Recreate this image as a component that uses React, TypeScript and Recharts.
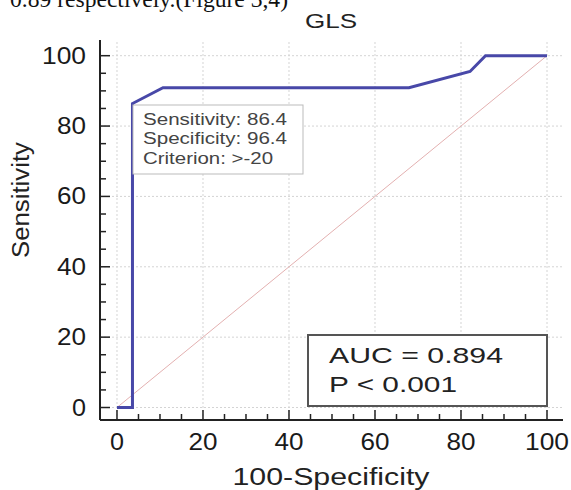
import React from 'react';
import { LineChart, Line, XAxis, YAxis, ReferenceLine } from 'recharts';

// ROC curve points (100-Specificity vs Sensitivity)
const rocX = [0, 3.6, 3.6, 10.7, 67.9, 82.1, 85.7, 100];
const rocY = [0, 0, 86.4, 90.9, 90.9, 95.5, 100, 100];

// diagonal reference line
const refX = [0, 100];
const refY = [0, 100];

// grid + tick values
const gridValues = [0, 20, 40, 60, 80, 100];
const tickValues = [0, 5, 10, 15, 20, 25, 30, 35, 40, 45, 50, 55, 60, 65, 70, 75, 80, 85, 90, 95, 100];

const cutoffLines = ['Sensitivity: 86.4', 'Specificity: 96.4', 'Criterion: >-20'];
const aucLines = ['AUC = 0.894', 'P < 0.001'];

const rocData = rocX.map((x, i) => ({ x, y: rocY[i] }));
const refData = refX.map((x, i) => ({ x, y: refY[i] }));

const FONT = '"Liberation Sans", Arial, sans-serif';
const LABEL_W: Record<number, number> = { 1: 14, 2: 29, 3: 44 };

const XTick = (props: any) => {
  const { x, y, payload } = props;
  const v = payload.value;
  const major = v % 20 === 0;
  const s = String(v);
  return (
    <g>
      <line x1={x} y1={y} x2={x} y2={y - (major ? 10 : 6)} stroke="#222" strokeWidth={1.5} />
      {major && (
        <text x={x} y={y + 30} textAnchor="middle" fontSize={23} fontFamily={FONT} fill="#1a1a1a"
          textLength={LABEL_W[s.length]} lengthAdjust="spacingAndGlyphs">
          {s}
        </text>
      )}
    </g>
  );
};

const YTick = (props: any) => {
  const { x, y, payload } = props;
  const v = payload.value;
  const major = v % 20 === 0;
  const s = String(v);
  return (
    <g>
      <line x1={x} y1={y} x2={x + (major ? 10 : 6)} y2={y} stroke="#222" strokeWidth={1.5} />
      {major && (
        <text x={x - 14} y={y + 8} textAnchor="end" fontSize={23} fontFamily={FONT} fill="#1a1a1a"
          textLength={LABEL_W[s.length]} lengthAdjust="spacingAndGlyphs">
          {s}
        </text>
      )}
    </g>
  );
};

export default function App() {
  return (
    <div style={{ position: 'relative', width: 571, height: 490, background: '#fff' }}>
      <style>{'body{margin:0}'}</style>
      <LineChart width={571} height={490} margin={{ top: 40, right: 8, bottom: 0, left: 40 }}>
        <XAxis type="number" dataKey="x" domain={[-3.95, 103.72]} ticks={tickValues} interval={0}
          height={70} tickSize={0} tickMargin={0} tickLine={false} tick={<XTick />}
          axisLine={{ stroke: '#222', strokeWidth: 2 }} allowDataOverflow />
        <YAxis type="number" dataKey="y" domain={[-3.55, 104.46]} ticks={tickValues} interval={0}
          width={60} tickSize={0} tickMargin={0} tickLine={false} tick={<YTick />}
          axisLine={{ stroke: '#222', strokeWidth: 2 }} allowDataOverflow />
        {gridValues.map((v) => (
          <ReferenceLine key={'gx' + v} x={v} stroke="#d4d4d4" strokeDasharray="2 2" />
        ))}
        {gridValues.map((v) => (
          <ReferenceLine key={'gy' + v} y={v} stroke="#d4d4d4" strokeDasharray="2 2" />
        ))}
        <Line data={refData} dataKey="y" type="linear" stroke="#e3b0b0" strokeWidth={1}
          dot={false} activeDot={false} isAnimationActive={false} />
        <Line data={rocData} dataKey="y" type="linear" stroke="#4848a8" strokeWidth={3}
          dot={false} activeDot={false} isAnimationActive={false} />
      </LineChart>

      {/* titles, axis labels and annotation boxes */}
      <svg width={571} height={490} style={{ position: 'absolute', left: 0, top: 0, pointerEvents: 'none' }}>
        <text x={10} y={7} fontSize={24} fontFamily='"Liberation Serif", serif' fill="#111"
          textLength={278} lengthAdjust="spacingAndGlyphs">0.89 respectively.(Figure 3,4)</text>
        <text x={331} y={28} textAnchor="middle" fontSize={21} fontFamily={FONT} fill="#222"
          textLength={52} lengthAdjust="spacingAndGlyphs">GLS</text>
        <text x={0} y={0} transform="translate(29,200) rotate(-90)" textAnchor="middle" fontSize={23}
          fontFamily={FONT} fill="#222" textLength={116} lengthAdjust="spacingAndGlyphs">Sensitivity</text>
        <text x={331} y={485} textAnchor="middle" fontSize={23} fontFamily={FONT} fill="#222"
          textLength={197} lengthAdjust="spacingAndGlyphs">100-Specificity</text>

        <rect x={133} y={105} width={170} height={69} fill="#fff" stroke="#bbb" strokeWidth={1} />
        {cutoffLines.map((t, i) => (
          <text key={t} x={143} y={124.5 + i * 19.5} fontSize={16} fontFamily={FONT} fill="#444"
            textLength={i === 2 ? 130 : 144} lengthAdjust="spacingAndGlyphs">{t}</text>
        ))}

        <rect x={308} y={335} width={239} height={71} fill="#fff" stroke="#555" strokeWidth={2} />
        {aucLines.map((t, i) => (
          <text key={t} x={329} y={363 + i * 29} fontSize={22} fontFamily={FONT} fill="#222"
            textLength={i === 0 ? 174 : 128} lengthAdjust="spacingAndGlyphs">{t}</text>
        ))}
      </svg>
    </div>
  );
}
